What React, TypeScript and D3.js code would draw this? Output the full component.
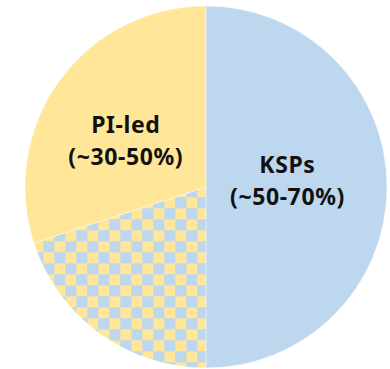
import React from "react";
import * as d3 from "d3";

const categories = ["KSPs", "Overlap", "PI-led"];
const values = [50, 20, 30];
const labelLine1 = ["KSPs", "", "PI-led"];
const labelLine2 = ["(~50-70%)", "", "(~30-50%)"];

const W = 390;
const H = 369;
const CX = 206;
const CY = 187;
const R = 181;
const BLUE = "#BDD7EE";
const YELLOW = "#FFE699";
const CELL = 11;

const labelRadiusFrac = [0.45, 0, 0.5];
const labelNudge: [number, number][] = [[0, 0], [0, 0], [-7, 13]];

export default function App() {
  const pie = d3.pie<number>().sort(null).value((d) => d)(values);
  const arc = d3.arc<d3.PieArcDatum<number>>().innerRadius(0).outerRadius(R);
  const fills = [BLUE, "url(#check)", YELLOW];

  return (
    <svg
      width={W}
      height={H}
      style={{ position: "absolute", left: 0, top: 0, background: "#fff" }}
      fontFamily="'Noto Sans', 'Open Sans', sans-serif"
    >
      <defs>
        <pattern id="check" patternUnits="userSpaceOnUse" width={CELL * 2} height={CELL * 2} x={2} y={-1}>
          <rect width={CELL * 2} height={CELL * 2} fill={YELLOW} />
          <rect x={0} y={0} width={CELL} height={CELL} fill={BLUE} />
          <rect x={CELL} y={CELL} width={CELL} height={CELL} fill={BLUE} />
          <path
            d={`M0,0.5H${CELL * 2} M0,${CELL + 0.5}H${CELL * 2} M0.5,0V${CELL * 2} M${CELL + 0.5},0V${CELL * 2}`}
            stroke="#DADCCF"
            strokeWidth={1}
            opacity={0.6}
          />
        </pattern>
      </defs>
      <g transform={`translate(${CX},${CY})`}>
        {pie.map((p, i) => (
          <path key={categories[i]} d={arc(p) || ""} fill={fills[i]} stroke="#fff" strokeWidth={0.6} strokeOpacity={0.7} />
        ))}
        {pie.map((p, i) => {
          if (!labelLine1[i]) return null;
          const lr = R * labelRadiusFrac[i];
          const [x, y] = d3.arc<d3.PieArcDatum<number>>().innerRadius(lr).outerRadius(lr).centroid(p);
          const ax = x + labelNudge[i][0];
          const ay = y + labelNudge[i][1];
          return (
            <text key={"l" + i} x={ax} y={ay} textAnchor="middle" fontSize={23} fontWeight={700} fill="#111" letterSpacing={0.6}>
              <tspan x={ax} y={ay - 14}>{labelLine1[i]}</tspan>
              <tspan x={ax} y={ay + 18}>{labelLine2[i]}</tspan>
            </text>
          );
        })}
      </g>
    </svg>
  );
}
